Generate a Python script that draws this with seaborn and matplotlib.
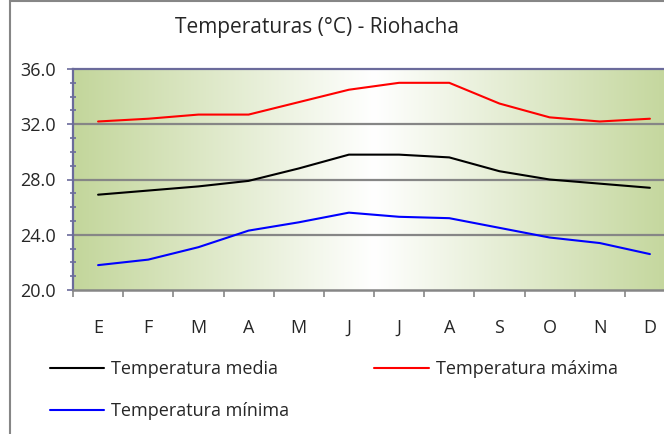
import numpy as np
import pandas as pd
import matplotlib.pyplot as plt
from matplotlib.colors import LinearSegmentedColormap
from matplotlib.lines import Line2D
from matplotlib.ticker import MultipleLocator, FixedLocator
import seaborn as sns

# Data
months = ["E", "F", "M", "A", "M", "J", "J", "A", "S", "O", "N", "D"]
temp_media = [26.9, 27.2, 27.5, 27.9, 28.8, 29.8, 29.8, 29.6, 28.6, 28.0, 27.7, 27.4]
temp_maxima = [32.2, 32.4, 32.7, 32.7, 33.6, 34.5, 35.0, 35.0, 33.5, 32.5, 32.2, 32.4]
temp_minima = [21.8, 22.2, 23.1, 24.3, 24.9, 25.6, 25.3, 25.2, 24.5, 23.8, 23.4, 22.6]
series_names = ["Temperatura media", "Temperatura máxima", "Temperatura mínima"]
series_colors = ["#000000", "#FF0000", "#0000FF"]

# Long-form table for seaborn
df = pd.DataFrame({
    "pos": list(range(12)) * 3,
    "valor": temp_media + temp_maxima + temp_minima,
    "serie": [s for s in series_names for _ in range(12)],
})

sns.set_style("white")
plt.rcParams["font.family"] = ["Open Sans", "DejaVu Sans"]

fig = plt.figure(figsize=(6.64, 4.34), dpi=100)
ax = fig.add_axes([73 / 664, 144 / 434, 602 / 664, 221 / 434])

# Gradient background (green - white - green)
cmap = LinearSegmentedColormap.from_list("bg", ["#C3D69B", "#FFFFFF", "#C3D69B"])
grad = np.linspace(0, 1, 256).reshape(1, -1)
ax.imshow(grad, cmap=cmap, aspect="auto", extent=[-0.5, 11.5, 20, 36], zorder=0)

# Gridlines
for v in [24, 28, 32]:
    ax.axhline(v, color="#868686", lw=1.6, zorder=1)

sns.lineplot(data=df, x="pos", y="valor", hue="serie", palette=series_colors,
             hue_order=series_names, lw=1.5, ax=ax, legend=False, zorder=3)

ax.set_xlim(-0.5, 11.5)
ax.set_ylim(20, 36)
ax.set_xlabel("")
ax.set_ylabel("")

# Y ticks
ax.yaxis.set_minor_locator(MultipleLocator(1))
ax.set_yticks([20, 24, 28, 32, 36])
ax.set_yticklabels([f"{v:.1f}" for v in [20, 24, 28, 32, 36]], fontsize=13)
ax.tick_params(axis="y", which="major", direction="out", length=4.5, width=1.2,
               color="#6B6B9B", pad=8, left=True)
ax.tick_params(axis="y", which="minor", direction="inout", length=5, width=1.2,
               color="#6B6B9B", left=True)

# X ticks: labels at centers, marks at boundaries
ax.set_xticks(range(12))
ax.set_xticklabels(months, fontsize=13)
ax.xaxis.set_minor_locator(FixedLocator(np.arange(-0.5, 12, 1)))
ax.tick_params(axis="x", which="major", length=0, pad=21)
ax.tick_params(axis="x", which="minor", direction="out", length=5, width=1.2,
               color="#868686", bottom=True)

for side in ["left", "top"]:
    ax.spines[side].set_color("#6B6B9B")
    ax.spines[side].set_linewidth(1.6)
ax.spines["bottom"].set_color("#868686")
ax.spines["bottom"].set_linewidth(1.8)
ax.spines["right"].set_visible(False)

# Chart border
fig.add_artist(Line2D([9.5 / 664, 9.5 / 664], [0, 1], color="#868686", lw=1.5))
fig.add_artist(Line2D([9.5 / 664, 1], [1 - 0.5 / 434, 1 - 0.5 / 434], color="#868686", lw=1.5))

fig.text(317 / 664, 1 - 27 / 434, "Temperaturas (°C) - Riohacha", ha="center", va="center",
         fontsize=15)

# Legend filled row by row (media, máxima / mínima)
order = [0, 2, 1]
handles = [Line2D([], [], color=series_colors[i], lw=1.5) for i in order]
labels = [series_names[i] for i in order]
fig.legend(handles, labels, loc="upper left", bbox_to_anchor=(50 / 664, 1 - 360 / 434),
           ncol=2, frameon=False, fontsize=13, handlelength=3.0, handletextpad=0.4,
           columnspacing=4.7, labelspacing=1.35, borderpad=0, borderaxespad=0)

fig.savefig("out.png", dpi=100)
